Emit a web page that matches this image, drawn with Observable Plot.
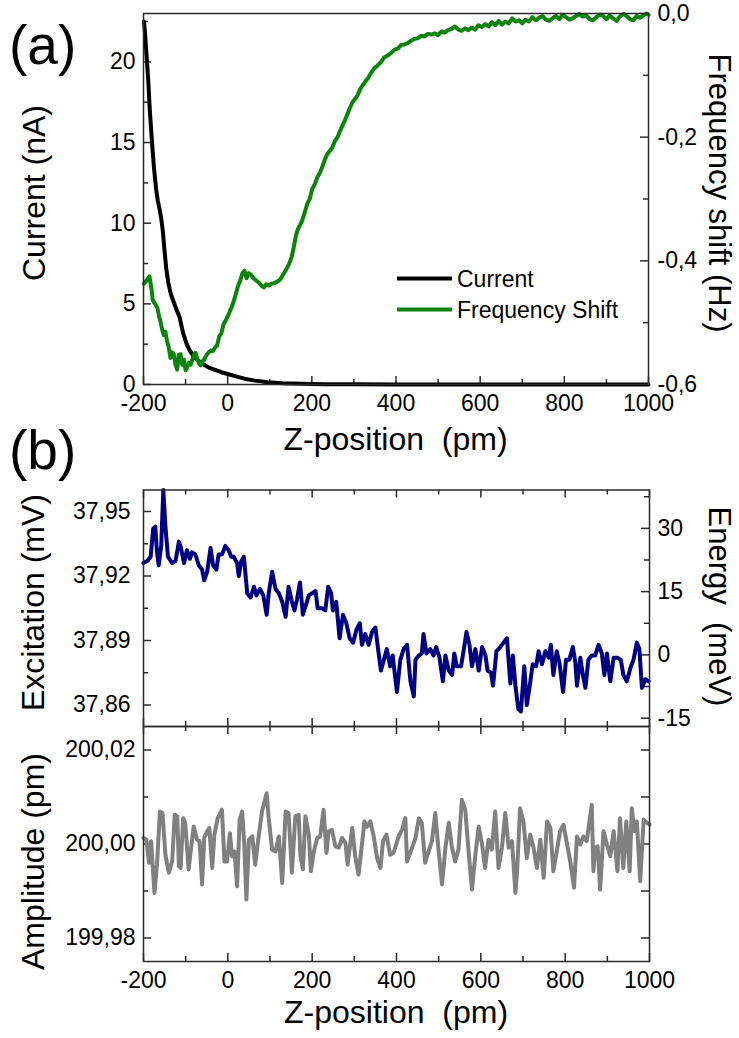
<!DOCTYPE html>
<html>
<head>
<meta charset="utf-8">
<script src="https://cdn.jsdelivr.net/npm/d3@7"></script>
<script src="https://cdn.jsdelivr.net/npm/@observablehq/plot@0.6"></script>
<style>
  body { margin: 0; background: #fff; }
  #chart { position: relative; width: 739px; height: 1038px; overflow: hidden; background: #fff;
           font-family: "Liberation Sans", Arial, sans-serif; }
</style>
</head>
<body>
<div id="chart"></div>
<script>
// ---------------- DATA ----------------
// Panel (a): tunnelling current (nA) vs Z-position (pm)
const currentSeries = [
  [-199,22.5],[-197,22.0],[-193,20.5],[-189,19.0],[-185,17.0],[-180,15.1],[-175,13.4],[-170,12.1],
  [-166,11.4],[-162,10.9],[-158,10.3],[-154,9.5],[-150,8.3],[-146,7.2],[-141,6.3],[-135,5.6],
  [-128,5.1],[-121,4.6],[-114,4.15],[-106,3.2],[-98,2.55],[-90,2.1],[-80,1.72],[-70,1.48],
  [-58,1.25],[-45,1.05],[-30,0.9],[-15,0.76],[0,0.65],[20,0.5],[40,0.36],[65,0.24],[95,0.14],
  [130,0.08],[175,0.04],[230,0.02],[300,0.01],[400,0],[600,0],[800,0],[1000,0]
];
// Panel (a): frequency shift (Hz) vs Z-position (pm)
const freqShiftSeries = [
  [-199,-0.437],[-193,-0.432],[-186,-0.425],[-181,-0.445],[-178,-0.464],[-172,-0.470],[-167,-0.476],
  [-163,-0.490],[-160,-0.497],[-156,-0.510],[-152,-0.520],[-148,-0.515],[-144,-0.530],[-140,-0.540],
  [-136,-0.557],[-132,-0.548],[-128,-0.551],[-124,-0.568],[-120,-0.576],[-116,-0.552],[-112,-0.551],
  [-108,-0.568],[-104,-0.560],[-100,-0.577],[-96,-0.572],[-92,-0.565],[-88,-0.568],[-84,-0.560],
  [-80,-0.552],[-76,-0.549],[-72,-0.560],[-68,-0.566],[-64,-0.569],[-60,-0.562],[-56,-0.560],
  [-50,-0.552],[-45,-0.548],[-40,-0.545],[-35,-0.546],[-30,-0.540],[-25,-0.537],[-20,-0.522],
  [-15,-0.517],[-10,-0.503],[-5,-0.497],[0,-0.490],[5,-0.482],[10,-0.474],[15,-0.464],[20,-0.452],
  [25,-0.440],[30,-0.432],[35,-0.420],[40,-0.416],[45,-0.428],[50,-0.420],[55,-0.422],[60,-0.427],
  [65,-0.430],[70,-0.433],[75,-0.436],[80,-0.440],[86,-0.443],[92,-0.438],[98,-0.440],[104,-0.437],
  [110,-0.436],[117,-0.434],[125,-0.430],[133,-0.421],[140,-0.413],[146,-0.405],[152,-0.394],
  [157,-0.378],[162,-0.360],[166,-0.350],[172,-0.342],[177,-0.335],[183,-0.322],[189,-0.308],
  [195,-0.300],[201,-0.284],[207,-0.276],[213,-0.265],[219,-0.258],[225,-0.248],[231,-0.236],
  [237,-0.227],[243,-0.222],[249,-0.216],[255,-0.206],[261,-0.200],[267,-0.190],[273,-0.181],
  [279,-0.172],[285,-0.162],[291,-0.152],[297,-0.143],[303,-0.138],[309,-0.132],[315,-0.122],
  [321,-0.116],[327,-0.110],[333,-0.105],[340,-0.097],[348,-0.089],[356,-0.084],[364,-0.079],
  [372,-0.071],[380,-0.068],[388,-0.064],[396,-0.059],[404,-0.057],[412,-0.051],[420,-0.050],
  [428,-0.048],[436,-0.044],[444,-0.041],[452,-0.040],[460,-0.036],[468,-0.037],[476,-0.033],
  [484,-0.034],[492,-0.032],[500,-0.035],[508,-0.029],[516,-0.031],[524,-0.027],[532,-0.025],
  [540,-0.021],[548,-0.026],[556,-0.028],[564,-0.024],[572,-0.027],[580,-0.023],[588,-0.026],
  [596,-0.019],[604,-0.022],[612,-0.017],[620,-0.021],[628,-0.014],[636,-0.019],[644,-0.012],
  [652,-0.018],[660,-0.013],[668,-0.016],[676,-0.008],[684,-0.013],[692,-0.011],[700,-0.016],
  [708,-0.010],[716,-0.013],[724,-0.006],[732,-0.011],[740,-0.007],[748,-0.004],[756,-0.010],
  [764,-0.012],[772,-0.008],[780,-0.004],[788,-0.009],[796,-0.002],[804,-0.006],[812,-0.010],
  [820,-0.008],[828,-0.004],[836,-0.001],[844,-0.005],[852,-0.003],[860,-0.009],[868,-0.011],
  [876,-0.006],[884,-0.002],[892,-0.004],[900,-0.009],[908,-0.003],[916,-0.008],[924,-0.012],
  [932,-0.005],[940,-0.001],[948,-0.004],[956,-0.009],[964,-0.011],[972,-0.004],[980,-0.007],
  [988,-0.003],[996,0.000],[1000,-0.002]
];
// Panel (b) top: excitation (mV) vs Z-position (pm)
const excitationSeries = [
  [-200,37.926],[-191,37.927],[-183,37.929],[-177,37.942],[-172,37.943],[-168,37.931],[-164,37.925],
  [-158,37.934],[-153,37.960],[-148,37.943],[-142,37.929],[-132,37.926],[-124,37.927],[-116,37.936],
  [-111,37.933],[-104,37.926],[-97,37.932],[-90,37.928],[-85,37.931],[-77,37.930],[-69,37.925],
  [-61,37.923],[-56,37.918],[-49,37.922],[-41,37.933],[-35,37.925],[-27,37.923],[-22,37.930],
  [-14,37.930],[-6,37.934],[2,37.932],[8,37.929],[14,37.929],[22,37.926],[26,37.920],[32,37.927],
  [38,37.929],[46,37.912],[54,37.910],[62,37.915],[68,37.911],[76,37.914],[84,37.911],[92,37.902],
  [97,37.912],[105,37.922],[113,37.914],[121,37.912],[129,37.908],[137,37.901],[144,37.915],
  [152,37.908],[158,37.904],[164,37.909],[171,37.917],[178,37.902],[186,37.907],[192,37.911],
  [200,37.912],[208,37.913],[213,37.905],[223,37.905],[231,37.904],[238,37.915],[245,37.912],
  [249,37.904],[257,37.908],[265,37.891],[273,37.902],[281,37.898],[289,37.891],[297,37.889],
  [305,37.895],[313,37.898],[318,37.888],[326,37.893],[334,37.888],[342,37.894],[350,37.896],
  [355,37.888],[363,37.876],[370,37.881],[377,37.886],[385,37.878],[391,37.883],[401,37.866],
  [409,37.881],[417,37.886],[425,37.888],[433,37.871],[441,37.864],[445,37.881],[453,37.883],
  [460,37.884],[464,37.893],[471,37.884],[480,37.886],[488,37.883],[494,37.887],[502,37.882],
  [510,37.871],[516,37.883],[524,37.876],[532,37.874],[537,37.884],[543,37.878],[553,37.878],
  [559,37.885],[566,37.894],[573,37.888],[579,37.878],[587,37.886],[595,37.876],[603,37.887],
  [611,37.883],[616,37.876],[624,37.875],[629,37.869],[637,37.885],[646,37.887],[662,37.891],
  [670,37.870],[676,37.883],[682,37.869],[689,37.858],[695,37.857],[703,37.878],[709,37.860],
  [716,37.869],[723,37.879],[731,37.878],[737,37.885],[745,37.879],[753,37.885],[761,37.882],
  [766,37.888],[772,37.874],[780,37.885],[787,37.879],[795,37.866],[802,37.881],[810,37.881],
  [818,37.887],[824,37.880],[828,37.869],[836,37.882],[842,37.874],[848,37.868],[855,37.881],
  [863,37.883],[871,37.883],[879,37.888],[887,37.884],[893,37.874],[899,37.884],[907,37.871],
  [915,37.882],[924,37.882],[932,37.881],[938,37.874],[946,37.871],[956,37.878],[962,37.881],
  [970,37.889],[976,37.886],[982,37.868],[990,37.872],[998,37.871]
];
// Panel (b) bottom: amplitude (pm) vs Z-position (pm)
const amplitudeSeries = [
  [-200,200.0013],[-193,200.0009],[-187,199.9960],[-182,200.0006],[-174,199.9896],[-168,199.9956],
  [-161,200.0069],[-155,200.0066],[-148,199.9977],[-140,199.9939],[-132,199.9963],[-126,200.0062],
  [-120,200.0059],[-116,199.9953],[-112,199.9949],[-106,200.0055],[-101,200.0045],[-93,199.9946],
  [-87,199.9992],[-81,200.0037],[-73,200.0009],[-67,200.0006],[-61,199.9914],[-56,200.0013],
  [-49,200.0027],[-44,200.0034],[-37,199.9949],[-32,200.0020],[-24,200.0055],[-14,200.0073],
  [-8,199.9963],[-2,199.9963],[5,200.0023],[10,199.9974],[16,199.9984],[22,199.9910],[28,200.0052],
  [34,200.0069],[39,199.9999],[44,199.9882],[50,200.0009],[58,200.0016],[65,199.9956],[71,200.0002],
  [81,200.0069],[92,200.0108],[97,200.0055],[105,199.9988],[113,199.9984],[121,200.0016],
  [129,199.9917],[137,200.0069],[144,200.0066],[152,199.9939],[160,200.0059],[168,200.0062],
  [172,199.9977],[178,199.9946],[184,200.0059],[192,200.0020],[197,199.9942],[204,199.9984],
  [212,200.0013],[219,200.0016],[227,200.0073],[234,199.9981],[239,200.0027],[247,200.0030],
  [255,199.9995],[263,199.9992],[271,200.0013],[279,200.0002],[284,199.9956],[295,200.0034],
  [302,199.9974],[310,199.9935],[318,199.9999],[324,200.0048],[330,200.0037],[338,200.0048],
  [346,200.0016],[354,199.9970],[362,199.9949],[368,200.0006],[376,200.0020],[385,199.9977],
  [393,199.9981],[405,200.0016],[413,200.0030],[421,200.0055],[425,199.9963],[437,199.9992],
  [445,200.0013],[453,200.0055],[460,200.0045],[468,199.9960],[476,199.9984],[484,200.0006],
  [492,200.0066],[500,199.9984],[508,199.9914],[516,199.9992],[524,200.0045],[531,199.9995],
  [539,199.9963],[547,199.9988],[555,200.0094],[563,200.0073],[571,199.9984],[579,199.9903],
  [587,199.9977],[595,200.0037],[603,199.9999],[610,199.9949],[618,200.0009],[626,199.9988],
  [634,200.0069],[642,199.9949],[650,199.9992],[658,200.0066],[666,199.9992],[674,200.0006],
  [682,199.9896],[686,199.9942],[693,200.0076],[701,200.0048],[709,199.9970],[717,200.0020],
  [725,199.9992],[733,199.9949],[741,200.0009],[749,199.9928],[757,200.0048],[765,200.0034],
  [772,199.9942],[780,199.9984],[788,200.0027],[796,200.0041],[804,200.0002],[812,199.9963],
  [821,199.9907],[828,200.0016],[836,199.9999],[843,200.0016],[851,200.0006],[863,200.0083],
  [867,199.9942],[871,199.9992],[877,199.9995],[883,199.9903],[891,200.0027],[899,199.9999],
  [907,199.9974],[915,200.0027],[924,199.9942],[930,200.0055],[938,199.9949],[945,200.0048],
  [953,199.9942],[958,200.0076],[964,200.0027],[970,200.0048],[978,199.9921],[986,200.0052],
  [994,200.0045],[1000,200.0041]
];

// Tick values
const zMajorTicks = [-200, 0, 200, 400, 600, 800, 1000];
const zMinorTicks = [-100, 100, 300, 500, 700, 900];
const currentTicks = [0, 5, 10, 15, 20];
const currentMinorTicks = [2.5, 7.5, 12.5, 17.5, 22.5];
const freqTicks = [0, -0.2, -0.4, -0.6];
const freqMinorTicks = [-0.1, -0.3, -0.5];
const excTicks = [37.86, 37.89, 37.92, 37.95];
const excMinorTicks = [37.875, 37.905, 37.935];
const energyTicks = [-15, 0, 15, 30];
const energyMinorTicks = [-7.5, 7.5, 22.5, 37.5];
const ampTicks = [199.98, 200.00, 200.02];
const ampMinorTicks = [199.99, 200.01];

// ---------------- HELPERS ----------------
const FONT = "'Liberation Sans', Arial, Helvetica, sans-serif";
const AX = "#2a2a2a";
const comma = (v, d) => v.toFixed(d).replace(".", ",");
const rows = (s) => s.map(([z, v]) => ({z, v}));

// secondary axis transforms
const currentMax = 23, freqMin = -0.6, freqMax = 0;
const freqToCurrent = f => (f - freqMin) / (freqMax - freqMin) * currentMax;
const energyZero = 37.8833, energyPerMV = 509.7;
const energyToExc = e => energyZero + e / energyPerMV;

function xTickMarks(vals, len, side, fh) {
  return Plot.tickX(vals, {x: d => d, stroke: AX, strokeWidth: 1.5,
    insetTop: side === "bottom" ? fh - len : 0, insetBottom: side === "top" ? fh - len : 0});
}
function yTickMarks(vals, len, side, fw) {
  return Plot.tickY(vals, {y: d => d, stroke: AX, strokeWidth: 1.5,
    insetRight: side === "left" ? fw - len : 0, insetLeft: side === "right" ? fw - len : 0});
}
const svgStyle = (top) => ({position: "absolute", left: "0px", top: top + "px", background: "transparent",
  fontFamily: FONT, fontSize: "23px", color: "#000", overflow: "visible"});

const chart = document.getElementById("chart");
const W = 739, ML = 143;
const MAJ = 8, MIN = 5;
const LW = 4;

// ---------------- PANEL (a) ----------------
{
  const H = 420, MT = 13, MB = 36, MR = 91;
  const fw = W - ML - MR, fh = H - MT - MB;
  const freqTickPos = freqTicks.map(freqToCurrent);
  const freqLabel = new Map(freqTicks.map(f => [freqToCurrent(f), comma(f, 1)]));
  const p = Plot.plot({
    width: W, height: H, marginLeft: ML, marginRight: MR, marginTop: MT, marginBottom: MB,
    style: svgStyle(0),
    x: {domain: [-200, 1000], label: null},
    y: {domain: [0, currentMax], label: null},
    marks: [
      xTickMarks(zMajorTicks, MAJ, "bottom", fh),
      xTickMarks(zMinorTicks, MIN, "bottom", fh),
      yTickMarks(currentTicks, MAJ, "left", fw),
      yTickMarks(currentMinorTicks, MIN, "left", fw),
      yTickMarks(freqTickPos, MAJ, "right", fw),
      yTickMarks(freqMinorTicks.map(freqToCurrent), MIN, "right", fw),
      Plot.axisX({ticks: zMajorTicks, tickSize: 0, tickPadding: 10, tickFormat: d => String(d), label: null}),
      Plot.axisY({anchor: "left", ticks: currentTicks, tickSize: 0, tickPadding: 8, tickFormat: d => String(d), label: null}),
      Plot.axisY({anchor: "right", ticks: freqTickPos, tickSize: 0, tickPadding: 9, tickFormat: d => freqLabel.get(d), label: null}),
      Plot.line(rows(currentSeries), {x: "z", y: "v", stroke: "#000", strokeWidth: LW, curve: "linear"}),
      Plot.line(rows(freqShiftSeries), {x: "z", y: d => freqToCurrent(d.v), stroke: "#0b840b", strokeWidth: LW, curve: "linear"}),
      Plot.frame({stroke: AX, strokeWidth: 1.5})
    ]
  });
  chart.appendChild(p);
}

// ---------------- PANEL (b) top: excitation ----------------
{
  const TOP = 460, H = 272, MT = 29.5, MB = 6, MR = 90;
  const fw = W - ML - MR, fh = H - MT - MB;
  const enPos = energyTicks.map(energyToExc);
  const enLabel = new Map(energyTicks.map(e => [energyToExc(e), String(e)]));
  const p = Plot.plot({
    width: W, height: H, marginLeft: ML, marginRight: MR, marginTop: MT, marginBottom: MB,
    style: svgStyle(TOP),
    x: {domain: [-200, 1000], label: null, axis: null},
    y: {domain: [37.85, 37.96], label: null},
    marks: [
      xTickMarks(zMajorTicks, MAJ, "top", fh),
      xTickMarks(zMinorTicks, MIN, "top", fh),
      xTickMarks(zMajorTicks, MAJ, "bottom", fh),
      xTickMarks(zMinorTicks, MIN, "bottom", fh),
      yTickMarks(excTicks, MAJ, "left", fw),
      yTickMarks(excMinorTicks, MIN, "left", fw),
      yTickMarks(enPos, MAJ, "right", fw),
      yTickMarks(energyMinorTicks.map(energyToExc), MIN, "right", fw),
      Plot.axisY({anchor: "left", ticks: excTicks, tickSize: 0, tickPadding: 13, tickFormat: d => comma(d, 2), label: null}),
      Plot.axisY({anchor: "right", ticks: enPos, tickSize: 0, tickPadding: 8, tickFormat: d => enLabel.get(d), label: null}),
      Plot.line(rows(excitationSeries), {x: "z", y: "v", stroke: "#000080", strokeWidth: LW, curve: "linear"}),
      Plot.frame({stroke: AX, strokeWidth: 1.5})
    ]
  });
  chart.appendChild(p);
}

// ---------------- PANEL (b) bottom: amplitude ----------------
{
  const TOP = 720, H = 318, MT = 6, MB = 77, MR = 90;
  const fw = W - ML - MR, fh = H - MT - MB;
  const p = Plot.plot({
    width: W, height: H, marginLeft: ML, marginRight: MR, marginTop: MT, marginBottom: MB,
    style: svgStyle(TOP),
    x: {domain: [-200, 1000], label: null},
    y: {domain: [199.975, 200.025], label: null},
    marks: [
      xTickMarks(zMajorTicks, MAJ, "top", fh),
      xTickMarks(zMinorTicks, MIN, "top", fh),
      xTickMarks(zMajorTicks, MAJ, "bottom", fh),
      xTickMarks(zMinorTicks, MIN, "bottom", fh),
      yTickMarks(ampTicks, MAJ, "left", fw),
      yTickMarks(ampMinorTicks, MIN, "left", fw),
      yTickMarks(ampTicks, MAJ, "right", fw),
      yTickMarks(ampMinorTicks, MAJ, "right", fw),
      Plot.axisX({ticks: zMajorTicks, tickSize: 0, tickPadding: 10, tickFormat: d => String(d), label: null}),
      Plot.axisY({anchor: "left", ticks: ampTicks, tickSize: 0, tickPadding: 8, tickFormat: d => comma(d, 2), label: null}),
      Plot.line(rows(amplitudeSeries), {x: "z", y: "v", stroke: "#808080", strokeWidth: LW, curve: "linear"}),
      Plot.frame({stroke: AX, strokeWidth: 1.5})
    ]
  });
  chart.appendChild(p);
}

// ---------------- TEXT OVERLAY (titles, panel tags, legend) ----------------
{
  const ov = d3.create("svg").attr("width", W).attr("height", 1038)
    .attr("style", `position:absolute;left:0;top:0;font-family:${FONT};`);
  const txt = (x, y, s, size, anchor = "middle", rot = 0) =>
    ov.append("text").attr("transform", `translate(${x},${y}) rotate(${rot})`)
      .attr("text-anchor", anchor).attr("font-size", size).attr("fill", "#000").text(s);
  txt(9, 63.5, "(a)", 55, "start");
  txt(9, 469, "(b)", 55, "start");
  txt(395.5, 450, "Z-position\u00a0 (pm)", 32);
  txt(396, 1023, "Z-position\u00a0 (pm)", 32);
  txt(45, 193, "Current (nA)", 32, "middle", -90);
  txt(44, 602.5, "Excitation (mV)", 32, "middle", -90);
  txt(44, 861.5, "Amplitude (pm)", 32, "middle", -90);
  txt(709, 193, "Frequency shift (Hz)", 31, "middle", 90);
  txt(709, 606.5, "Energy\u00a0 (meV)", 31, "middle", 90);
  // legend
  const legend = [["Current", "#000", 278.5], ["Frequency Shift", "#0b840b", 309.5]];
  for (const [label, color, y] of legend) {
    ov.append("line").attr("x1", 397).attr("x2", 452).attr("y1", y).attr("y2", y)
      .attr("stroke", color).attr("stroke-width", 4);
    txt(457, y + 8, label, 23, "start");
  }
  chart.appendChild(ov.node());
}
</script>
</body>
</html>
